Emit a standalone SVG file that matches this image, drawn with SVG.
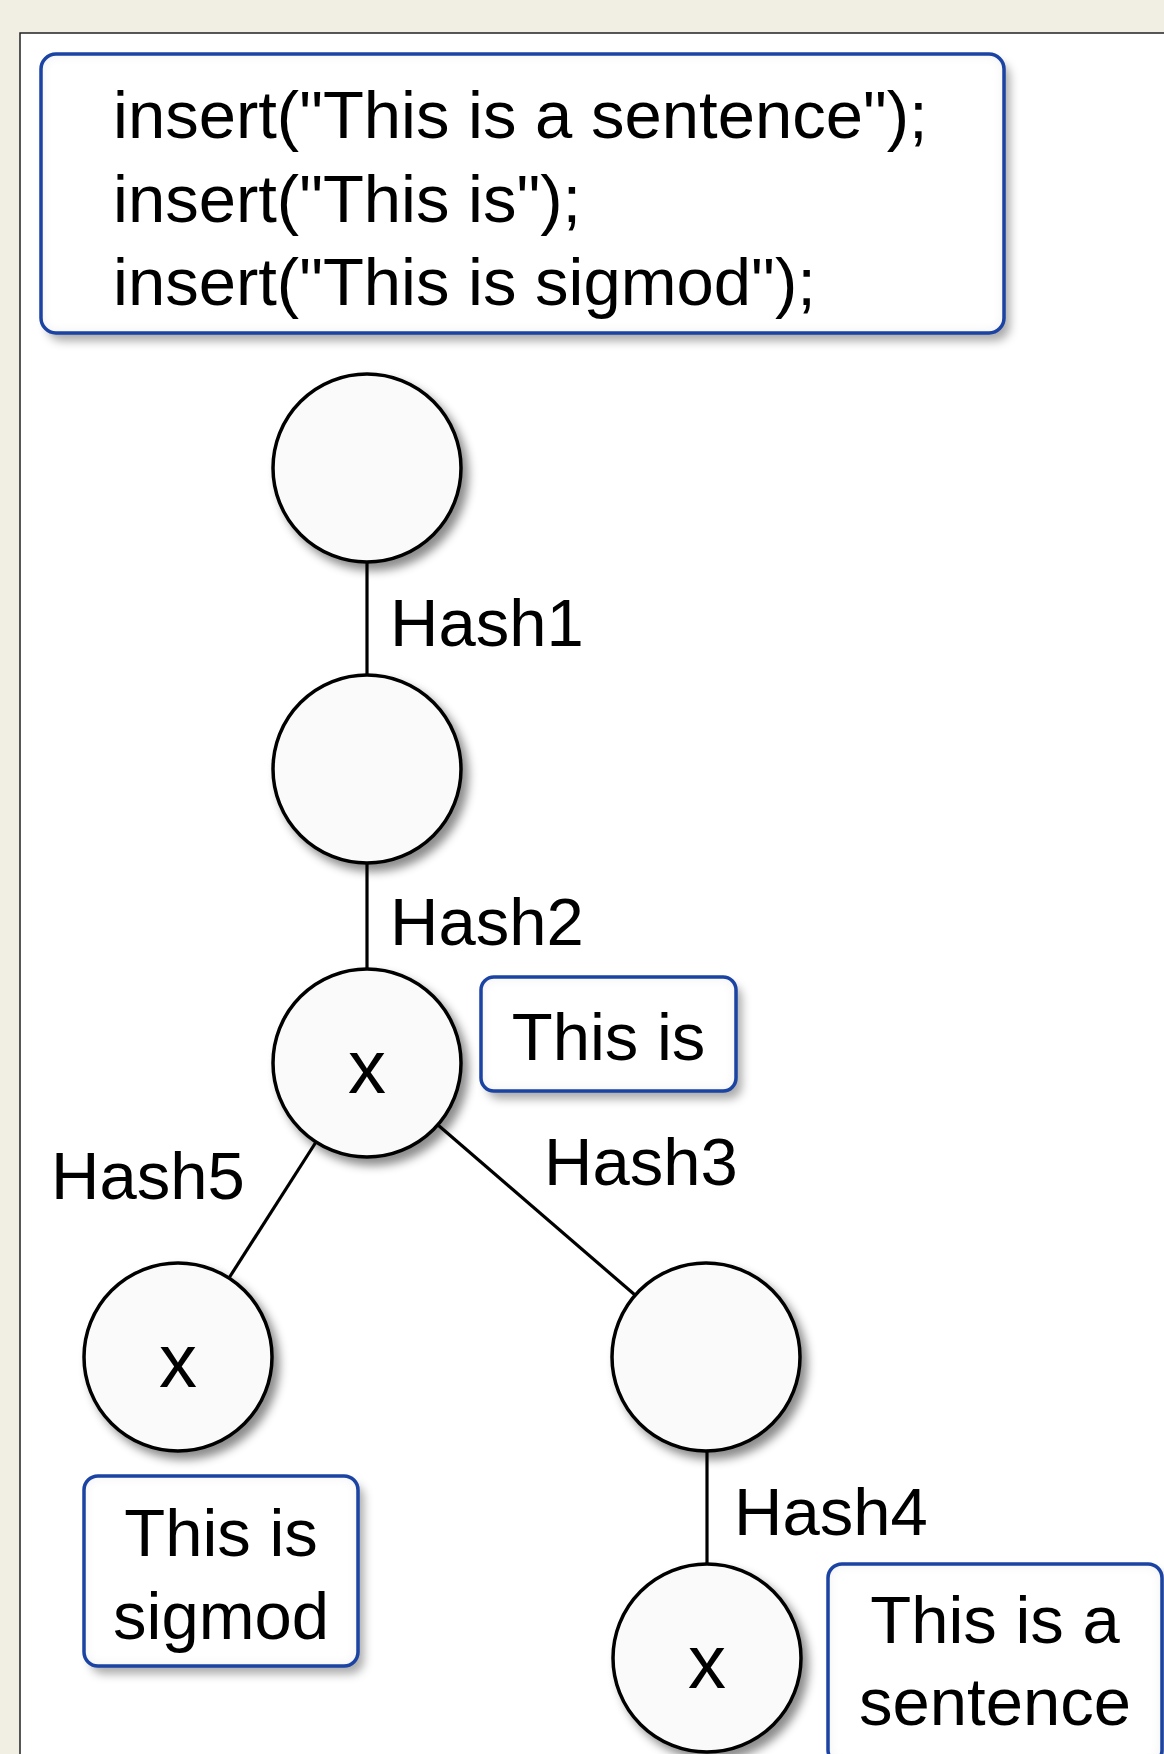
<svg xmlns="http://www.w3.org/2000/svg" width="1164" height="1754" viewBox="0 0 1164 1754">
  <defs>
    <style>
      .lbl { font-family: "Liberation Sans", Arial, sans-serif; font-size: 67px; fill: #000; }
      .mark { font-family: "Liberation Sans", Arial, sans-serif; font-size: 76px; fill: #000; text-anchor: middle; }
      .mid { text-anchor: middle; }
      .node { fill: #fafafa; stroke: #000; stroke-width: 3.5; }
      .boxfill { fill: #fff; }
      .boxline { fill: none; stroke: #1b43a3; stroke-width: 3.5; }
      .edge { stroke: #000; stroke-width: 3.2; fill: none; }
    </style>
    <!-- soft drop shadow for the circular nodes -->
    <filter id="nodeShadow" x="-30%" y="-30%" width="170%" height="170%">
      <feGaussianBlur in="SourceAlpha" stdDeviation="5" result="b"/>
      <feOffset in="b" dx="6" dy="7" result="o"/>
      <feFlood flood-color="#000" flood-opacity="0.45"/>
      <feComposite in2="o" operator="in" result="drop"/>
      <feMerge><feMergeNode in="drop"/><feMergeNode in="SourceGraphic"/></feMerge>
    </filter>
    <!-- drop shadow plus a faint inner glow for the text boxes -->
    <filter id="boxShadow" x="-15%" y="-20%" width="135%" height="150%">
      <feGaussianBlur in="SourceAlpha" stdDeviation="5" result="b"/>
      <feOffset in="b" dx="6" dy="8" result="o"/>
      <feFlood flood-color="#000" flood-opacity="0.33"/>
      <feComposite in2="o" operator="in" result="drop"/>
      <feFlood flood-color="#000" flood-opacity="0.16" result="f2"/>
      <feComposite in="f2" in2="SourceAlpha" operator="out" result="outside"/>
      <feGaussianBlur in="outside" stdDeviation="6" result="ob"/>
      <feComposite in="ob" in2="SourceAlpha" operator="in" result="inner"/>
      <feMerge><feMergeNode in="drop"/><feMergeNode in="SourceGraphic"/><feMergeNode in="inner"/></feMerge>
    </filter>
  </defs>

  <!-- page background and drawing panel -->
  <rect x="0" y="0" width="1164" height="1754" fill="#f1efe4"/>
  <rect x="20" y="33" width="1170" height="1760" fill="#fff" stroke="#222" stroke-width="1.5"/>

  <!-- code listing -->
  <g id="code">
    <rect class="boxfill" x="41" y="54" width="963" height="279" rx="15" filter="url(#boxShadow)"/>
    <rect class="boxline" x="41" y="54" width="963" height="279" rx="15"/>
    <text class="lbl" x="113" y="138">insert("This is a sentence");</text>
    <text class="lbl" x="113" y="222">insert("This is");</text>
    <text class="lbl" x="113" y="305">insert("This is sigmod");</text>
  </g>

  <!-- edges -->
  <g id="edges">
    <line class="edge" x1="367" y1="562" x2="367" y2="675"/>
    <line class="edge" x1="367" y1="863" x2="367" y2="969"/>
    <line class="edge" x1="316" y1="1142" x2="229" y2="1278"/>
    <line class="edge" x1="438" y1="1125" x2="635" y2="1295"/>
    <line class="edge" x1="707" y1="1451" x2="707" y2="1564"/>
    <text class="lbl" x="390" y="646">Hash1</text>
    <text class="lbl" x="390" y="945">Hash2</text>
    <text class="lbl" x="544" y="1185">Hash3</text>
    <text class="lbl" x="734" y="1535">Hash4</text>
    <text class="lbl" x="51" y="1199">Hash5</text>
  </g>

  <!-- trie nodes -->
  <g id="n1"><circle class="node" cx="367" cy="468" r="94" filter="url(#nodeShadow)"/></g>
  <g id="n2"><circle class="node" cx="367" cy="769" r="94" filter="url(#nodeShadow)"/></g>
  <g id="n3">
    <circle class="node" cx="367" cy="1063" r="94" filter="url(#nodeShadow)"/>
    <text class="mark" x="367" y="1093">x</text>
  </g>
  <g id="n4">
    <circle class="node" cx="178" cy="1357" r="94" filter="url(#nodeShadow)"/>
    <text class="mark" x="178" y="1387">x</text>
  </g>
  <g id="n5"><circle class="node" cx="706" cy="1357" r="94" filter="url(#nodeShadow)"/></g>
  <g id="n6">
    <circle class="node" cx="707" cy="1658" r="94" filter="url(#nodeShadow)"/>
    <text class="mark" x="707" y="1688">x</text>
  </g>

  <!-- stored values -->
  <g id="v3">
    <rect class="boxfill" x="481" y="977" width="255" height="114" rx="13" filter="url(#boxShadow)"/>
    <rect class="boxline" x="481" y="977" width="255" height="114" rx="13"/>
    <text class="lbl mid" x="608.5" y="1060">This is</text>
  </g>
  <g id="v4">
    <rect class="boxfill" x="84" y="1476" width="274" height="190" rx="14" filter="url(#boxShadow)"/>
    <rect class="boxline" x="84" y="1476" width="274" height="190" rx="14"/>
    <text class="lbl mid" x="221" y="1556">This is</text>
    <text class="lbl mid" x="221" y="1639">sigmod</text>
  </g>
  <g id="v6">
    <rect class="boxfill" x="828" y="1564" width="334" height="200" rx="14" filter="url(#boxShadow)"/>
    <rect class="boxline" x="828" y="1564" width="334" height="200" rx="14"/>
    <text class="lbl mid" x="995" y="1643">This is a</text>
    <text class="lbl mid" x="995" y="1725">sentence</text>
  </g>
</svg>
